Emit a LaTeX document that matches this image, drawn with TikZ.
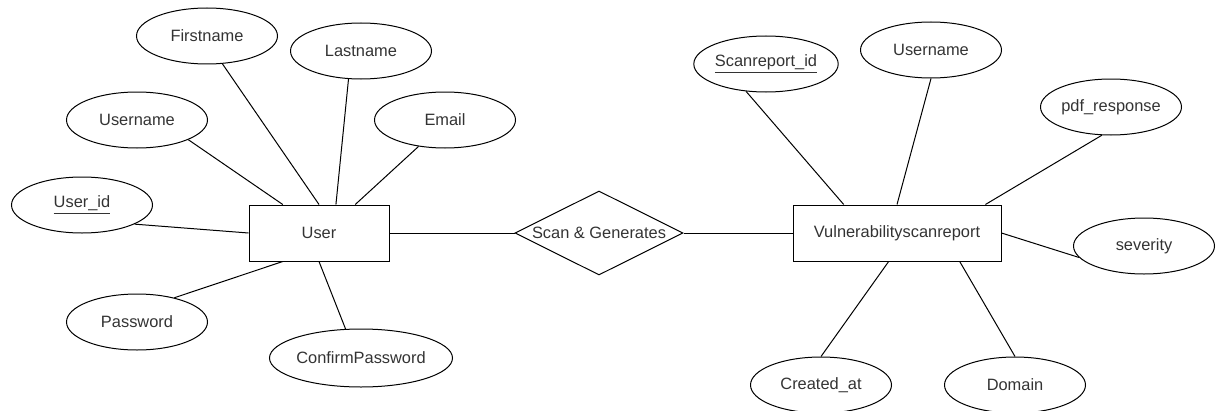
\documentclass[tikz,border=0pt]{standalone}
\usepackage{fontspec}
\setmainfont{Liberation Sans}
\usetikzlibrary{shapes.geometric,calc}

\begin{document}
\begin{tikzpicture}[x=0.75pt, y=-0.75pt, line width=0.75pt,
        every node/.style = {font=\fontsize{12.3}{15}\selectfont, text=black!80},
        attr/.style = {draw, ellipse, minimum width=105.75pt, minimum height=42pt, inner sep=0pt},
        ent/.style = {draw, rectangle, minimum height=42pt, inner sep=0pt},
        rel/.style = {draw, diamond, minimum width=126pt, minimum height=63pt, inner sep=0pt}]

                \useasboundingbox (0,0) rectangle (1219,410);

                \node[ent, minimum width=105pt] (user) at (319,233) {User};
                \node[rel] (scan) at (599,233) {\makebox[0pt]{Scan \& Generates}};
                \node[ent, minimum width=156pt] (report) at (897,233) {Vulnerabilityscanreport};

                \node[attr] (u1) at (82,205) {\underline{User\_id}};
                \node[attr] (u2) at (137,120) {Username};
                \node[attr] (u3) at (207,36) {Firstname};
                \node[attr] (u4) at (361,51) {Lastname};
                \node[attr] (u5) at (445,120) {Email};
                \node[attr] (u6) at (137,322) {Password};
                \node[attr, minimum width=127.5pt, minimum height=43.5pt] (u7) at (361,358) {ConfirmPassword};

                \node[attr] (r1) at (766,64) {\underline{Scanreport\_id}};
                \node[attr] (r2) at (931,50) {Username};
                \node[attr] (r3) at (1111,107) {pdf\_response};
                \node[attr] (r4) at (1144,246) {severity};
                \node[attr] (r5) at (821,385) {Created\_at};
                \node[attr] (r6) at (1015,385) {Domain};

                \draw (user) -- (scan);
                \draw (scan) -- (report);

                \draw (u1.-20) -- (user.west);
                \draw (u2.-21) -- ($(user.north west)!0.243!(user.north east)$);
                \draw (u3.-61) -- (user.north);
                \draw (u4.-114) -- ($(user.north west)!0.62!(user.north east)$);
                \draw (u5.-135) -- ($(user.north west)!0.757!(user.north east)$);
                \draw (u6.33) -- ($(user.south west)!0.243!(user.south east)$);
                \draw (u7.118) -- (user.south);

                \draw (r1.-126) -- ($(report.north west)!0.245!(report.north east)$);
                \draw (r2.south) -- (report.north);
                \draw (r3.-108) -- ($(report.north west)!0.923!(report.north east)$);
                \draw (r4.190) -- (report.east);
                \draw (r5.north) -- ($(report.south west)!0.46!(report.south east)$);
                \draw (r6.north) -- ($(report.south west)!0.8!(report.south east)$);

            \end{tikzpicture}
\end{document}
